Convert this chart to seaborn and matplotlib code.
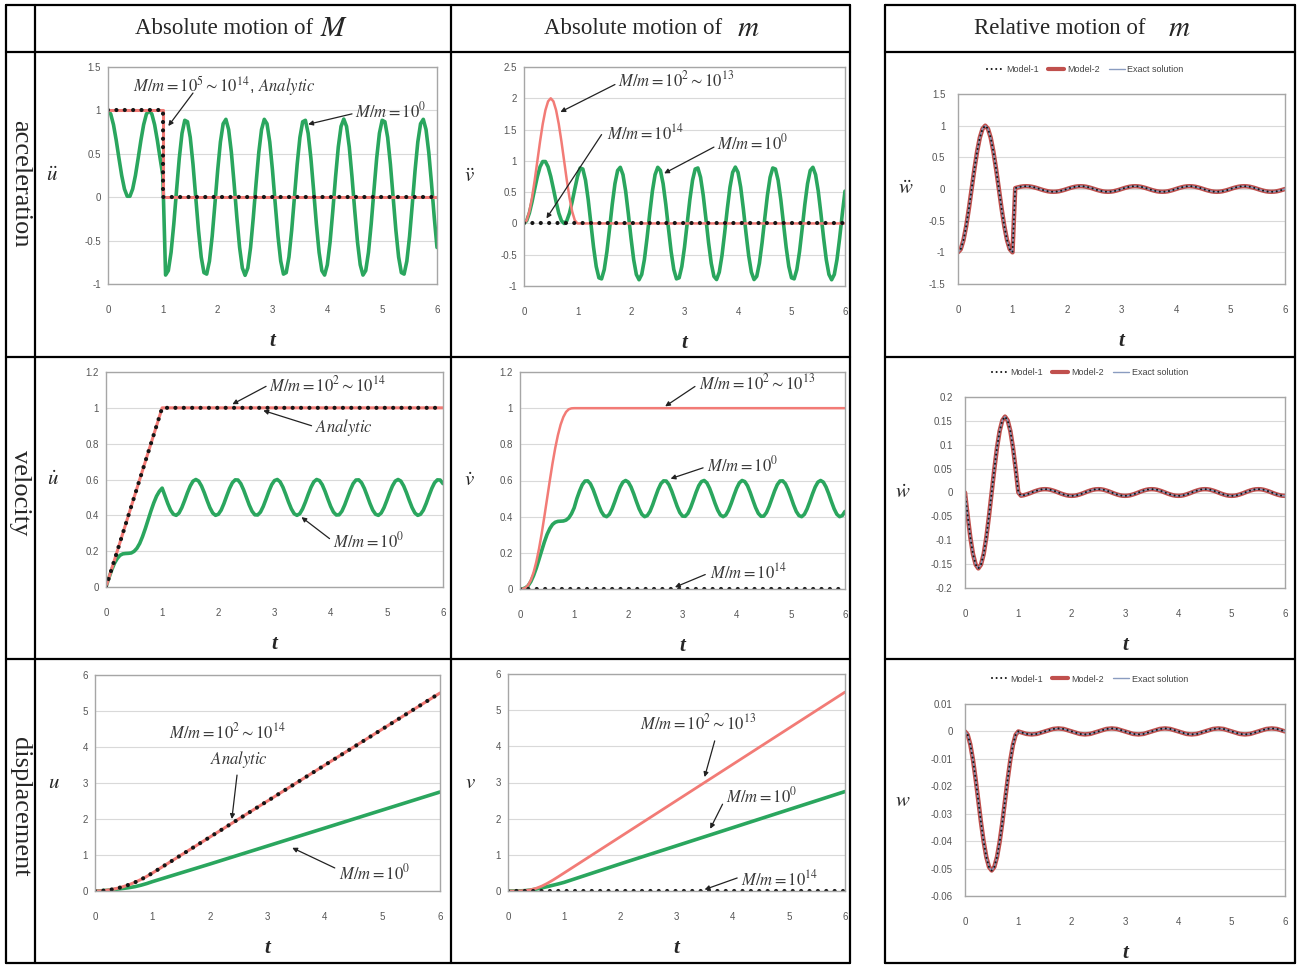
import matplotlib.pyplot as plt
import seaborn as sns
from matplotlib.lines import Line2D
from matplotlib.ticker import FuncFormatter

# ---------------- values ----------------
# common time axis (step 0.05)
T = [0.0, 0.05, 0.1, 0.15, 0.2, 0.25, 0.3, 0.35, 0.4, 0.45,
     0.5, 0.55, 0.6, 0.65, 0.7, 0.75, 0.8, 0.85, 0.9, 0.95,
     1.0, 1.05, 1.1, 1.15, 1.2, 1.25, 1.3, 1.35, 1.4, 1.45,
     1.5, 1.55, 1.6, 1.65, 1.7, 1.75, 1.8, 1.85, 1.9, 1.95,
     2.0, 2.05, 2.1, 2.15, 2.2, 2.25, 2.3, 2.35, 2.4, 2.45,
     2.5, 2.55, 2.6, 2.65, 2.7, 2.75, 2.8, 2.85, 2.9, 2.95,
     3.0, 3.05, 3.1, 3.15, 3.2, 3.25, 3.3, 3.35, 3.4, 3.45,
     3.5, 3.55, 3.6, 3.65, 3.7, 3.75, 3.8, 3.85, 3.9, 3.95,
     4.0, 4.05, 4.1, 4.15, 4.2, 4.25, 4.3, 4.35, 4.4, 4.45,
     4.5, 4.55, 4.6, 4.65, 4.7, 4.75, 4.8, 4.85, 4.9, 4.95,
     5.0, 5.05, 5.1, 5.15, 5.2, 5.25, 5.3, 5.35, 5.4, 5.45,
     5.5, 5.55, 5.6, 5.65, 5.7, 5.75, 5.8, 5.85, 5.9, 5.95,
     6.0]

# --- absolute motion of M ---
ACC_M_1 = [1.0, 0.957, 0.835, 0.655, 0.448, 0.25, 0.095, 0.011, 0.011, 0.095,
           0.25, 0.448, 0.655, 0.835, 0.957, 1.0, 0.957, 0.835, 0.655, 0.448,
           0.25, -0.897, -0.846, -0.636, -0.308, 0.078, 0.45, 0.737, 0.886, 0.869,
           0.689, 0.380, 0.0, -0.380, -0.689, -0.869, -0.886, -0.737, -0.45, -0.078,
           0.308, 0.636, 0.846, 0.897, 0.779, 0.516, 0.156, -0.233, -0.579, -0.816,
           -0.9, -0.816, -0.579, -0.233, 0.156, 0.516, 0.779, 0.897, 0.846, 0.636,
           0.308, -0.078, -0.45, -0.737, -0.886, -0.869, -0.689, -0.380, 0.0, 0.380,
           0.689, 0.869, 0.886, 0.737, 0.45, 0.078, -0.308, -0.636, -0.846, -0.897,
           -0.779, -0.516, -0.156, 0.233, 0.579, 0.816, 0.9, 0.816, 0.579, 0.233,
           -0.156, -0.516, -0.779, -0.897, -0.846, -0.636, -0.308, 0.078, 0.45, 0.737,
           0.886, 0.869, 0.689, 0.380, 0.0, -0.380, -0.689, -0.869, -0.886, -0.737,
           -0.45, -0.078, 0.308, 0.636, 0.846, 0.897, 0.779, 0.516, 0.156, -0.233,
           -0.579]
T_STEP = [0, 1, 1, 6]
ACC_M_HEAVY = [1, 1, 0, 0]
ACC_M_ANALYTIC = [1, 1, 0, 0]

VEL_M_1 = [0.0, 0.049, 0.094, 0.132, 0.159, 0.177, 0.185, 0.187, 0.188, 0.190,
           0.199, 0.216, 0.243, 0.281, 0.326, 0.375, 0.424, 0.469, 0.507, 0.534,
           0.552, 0.509, 0.466, 0.429, 0.406, 0.400, 0.413, 0.443, 0.483, 0.526,
           0.564, 0.591, 0.6, 0.591, 0.564, 0.526, 0.483, 0.443, 0.413, 0.400,
           0.406, 0.429, 0.466, 0.509, 0.55, 0.582, 0.598, 0.597, 0.577, 0.542,
           0.5, 0.458, 0.423, 0.403, 0.402, 0.418, 0.45, 0.491, 0.534, 0.571,
           0.594, 0.600, 0.587, 0.557, 0.517, 0.474, 0.436, 0.409, 0.4, 0.409,
           0.436, 0.474, 0.517, 0.557, 0.587, 0.600, 0.594, 0.571, 0.534, 0.491,
           0.45, 0.418, 0.402, 0.403, 0.423, 0.458, 0.5, 0.542, 0.577, 0.597,
           0.598, 0.582, 0.55, 0.509, 0.466, 0.429, 0.406, 0.400, 0.413, 0.443,
           0.483, 0.526, 0.564, 0.591, 0.6, 0.591, 0.564, 0.526, 0.483, 0.443,
           0.413, 0.400, 0.406, 0.429, 0.466, 0.509, 0.55, 0.582, 0.598, 0.597,
           0.577]
T_RAMP = [0, 1, 6]
VEL_M_HEAVY = [0, 1, 1]
VEL_M_ANALYTIC = [0, 1, 1]

T_DISP = [0.0, 0.1, 0.2, 0.3, 0.4, 0.5, 0.6, 0.7, 0.8, 0.9, 1.0, 2.0, 3.0, 4.0, 5.0, 6.0]
DISP_M_1 = [0.0, 0.005, 0.018, 0.035, 0.054, 0.073, 0.095, 0.123, 0.161, 0.207, 0.261,
            0.75, 1.25, 1.75, 2.25, 2.75]
DISP_M_HEAVY = [0.0, 0.005, 0.02, 0.045, 0.08, 0.125, 0.18, 0.245, 0.32, 0.405, 0.5,
                1.5, 2.5, 3.5, 4.5, 5.5]
DISP_M_ANALYTIC = [0.0, 0.005, 0.02, 0.045, 0.08, 0.125, 0.18, 0.245, 0.32, 0.405, 0.5,
                   1.5, 2.5, 3.5, 4.5, 5.5]

# --- absolute motion of m ---
ACC_m_1 = [0.0, 0.043, 0.165, 0.345, 0.552, 0.75, 0.905, 0.989, 0.989, 0.905,
           0.75, 0.552, 0.345, 0.165, 0.043, 0.0, 0.043, 0.165, 0.345, 0.552,
           0.75, 0.886, 0.869, 0.689, 0.380, 0.0, -0.380, -0.689, -0.869, -0.886,
           -0.737, -0.45, -0.078, 0.308, 0.636, 0.846, 0.897, 0.779, 0.516, 0.156,
           -0.233, -0.579, -0.816, -0.9, -0.816, -0.579, -0.233, 0.156, 0.516, 0.779,
           0.897, 0.846, 0.636, 0.308, -0.078, -0.45, -0.737, -0.886, -0.869, -0.689,
           -0.380, 0.0, 0.380, 0.689, 0.869, 0.886, 0.737, 0.45, 0.078, -0.308,
           -0.636, -0.846, -0.897, -0.779, -0.516, -0.156, 0.233, 0.579, 0.816, 0.9,
           0.816, 0.579, 0.233, -0.156, -0.516, -0.779, -0.897, -0.846, -0.636, -0.308,
           0.078, 0.45, 0.737, 0.886, 0.869, 0.689, 0.380, 0.0, -0.380, -0.689,
           -0.869, -0.886, -0.737, -0.45, -0.078, 0.308, 0.636, 0.846, 0.897, 0.779,
           0.516, 0.156, -0.233, -0.579, -0.816, -0.9, -0.816, -0.579, -0.233, 0.156,
           0.516]
T_PULSE = [0.0, 0.05, 0.1, 0.15, 0.2, 0.25, 0.3, 0.35, 0.4, 0.45,
           0.5, 0.55, 0.6, 0.65, 0.7, 0.75, 0.8, 0.85, 0.9, 0.95, 1.0, 6.0]
ACC_m_HEAVY = [0.0, 0.049, 0.191, 0.412, 0.691, 1.0, 1.309, 1.588, 1.809, 1.951,
               2.0, 1.951, 1.809, 1.588, 1.309, 1.0, 0.691, 0.412, 0.191, 0.049, 0.0, 0.0]
T_FLAT = [0, 6]
ACC_m_RIGID = [0, 0]

VEL_m_1 = [0.0, 0.001, 0.006, 0.018, 0.041, 0.074, 0.115, 0.163, 0.212, 0.26,
           0.302, 0.334, 0.357, 0.369, 0.374, 0.375, 0.376, 0.381, 0.393, 0.416,
           0.449, 0.5, 0.542, 0.577, 0.597, 0.598, 0.582, 0.55, 0.509, 0.466,
           0.429, 0.406, 0.400, 0.413, 0.443, 0.483, 0.526, 0.564, 0.591, 0.6,
           0.591, 0.564, 0.526, 0.483, 0.443, 0.413, 0.400, 0.406, 0.429, 0.466,
           0.509, 0.55, 0.582, 0.598, 0.597, 0.577, 0.542, 0.5, 0.458, 0.423,
           0.403, 0.402, 0.418, 0.45, 0.491, 0.534, 0.571, 0.594, 0.600, 0.587,
           0.557, 0.517, 0.474, 0.436, 0.409, 0.4, 0.409, 0.436, 0.474, 0.517,
           0.557, 0.587, 0.600, 0.594, 0.571, 0.534, 0.491, 0.45, 0.418, 0.402,
           0.403, 0.423, 0.458, 0.5, 0.542, 0.577, 0.597, 0.598, 0.582, 0.55,
           0.509, 0.466, 0.429, 0.406, 0.400, 0.413, 0.443, 0.483, 0.526, 0.564,
           0.591, 0.6, 0.591, 0.564, 0.526, 0.483, 0.443, 0.413, 0.400, 0.406,
           0.429]
VEL_m_HEAVY = [0.0, 0.001, 0.006, 0.021, 0.049, 0.091, 0.149, 0.221, 0.306, 0.401,
               0.5, 0.599, 0.694, 0.779, 0.851, 0.909, 0.951, 0.979, 0.994, 0.999, 1.0, 1.0]
VEL_m_RIGID = [0, 0]

DISP_m_1 = [0.0, 0.0001, 0.0022, 0.0097, 0.026, 0.0518, 0.0851, 0.1219, 0.1594, 0.1976,
            0.2393, 0.75, 1.25, 1.75, 2.25, 2.75]
DISP_m_HEAVY = [0.0, 0.0002, 0.0025, 0.0118, 0.0342, 0.0743, 0.134, 0.212, 0.3025, 0.4,
                0.5, 1.5, 2.5, 3.5, 4.5, 5.5]
DISP_m_RIGID = [0, 0]

# --- relative motion of m (Model-1, Model-2 and exact solution coincide) ---
REL_ACC = [-1.0, -0.951, -0.809, -0.588, -0.309, 0.0, 0.309, 0.588, 0.809, 0.951,
           1.0, 0.951, 0.809, 0.588, 0.309, 0.0, -0.309, -0.588, -0.809, -0.951,
           -1.0, 0.014, 0.026, 0.036, 0.042, 0.044, 0.042, 0.036, 0.026, 0.014,
           0.0, -0.014, -0.026, -0.036, -0.042, -0.044, -0.042, -0.036, -0.026, -0.014,
           0.0, 0.014, 0.026, 0.036, 0.042, 0.044, 0.042, 0.036, 0.026, 0.014,
           0.0, -0.014, -0.026, -0.036, -0.042, -0.044, -0.042, -0.036, -0.026, -0.014,
           0.0, 0.014, 0.026, 0.036, 0.042, 0.044, 0.042, 0.036, 0.026, 0.014,
           0.0, -0.014, -0.026, -0.036, -0.042, -0.044, -0.042, -0.036, -0.026, -0.014,
           0.0, 0.014, 0.026, 0.036, 0.042, 0.044, 0.042, 0.036, 0.026, 0.014,
           0.0, -0.014, -0.026, -0.036, -0.042, -0.044, -0.042, -0.036, -0.026, -0.014,
           0.0, 0.014, 0.026, 0.036, 0.042, 0.044, 0.042, 0.036, 0.026, 0.014,
           0.0, -0.014, -0.026, -0.036, -0.042, -0.044, -0.042, -0.036, -0.026, -0.014,
           0.0]
REL_VEL = [0.0, -0.049, -0.094, -0.129, -0.151, -0.159, -0.151, -0.129, -0.094, -0.049,
           0.0, 0.049, 0.094, 0.129, 0.151, 0.159, 0.151, 0.129, 0.094, 0.049,
           0.0, -0.0067, -0.0057, -0.0041, -0.0022, 0.0, 0.0022, 0.0041, 0.0057, 0.0067,
           0.007, 0.0067, 0.0057, 0.0041, 0.0022, 0.0, -0.0022, -0.0041, -0.0057, -0.0067,
           -0.007, -0.0067, -0.0057, -0.0041, -0.0022, 0.0, 0.0022, 0.0041, 0.0057, 0.0067,
           0.007, 0.0067, 0.0057, 0.0041, 0.0022, 0.0, -0.0022, -0.0041, -0.0057, -0.0067,
           -0.007, -0.0067, -0.0057, -0.0041, -0.0022, 0.0, 0.0022, 0.0041, 0.0057, 0.0067,
           0.007, 0.0067, 0.0057, 0.0041, 0.0022, 0.0, -0.0022, -0.0041, -0.0057, -0.0067,
           -0.007, -0.0067, -0.0057, -0.0041, -0.0022, 0.0, 0.0022, 0.0041, 0.0057, 0.0067,
           0.007, 0.0067, 0.0057, 0.0041, 0.0022, 0.0, -0.0022, -0.0041, -0.0057, -0.0067,
           -0.007, -0.0067, -0.0057, -0.0041, -0.0022, 0.0, 0.0022, 0.0041, 0.0057, 0.0067,
           0.007, 0.0067, 0.0057, 0.0041, 0.0022, 0.0, -0.0022, -0.0041, -0.0057, -0.0067,
           -0.007]
REL_DISP = [0.0, -0.0012, -0.0048, -0.0104, -0.0175, -0.0253, -0.0332, -0.0402, -0.0458, -0.0494,
            -0.0507, -0.0494, -0.0458, -0.0402, -0.0332, -0.0253, -0.0175, -0.0104, -0.0048, -0.0012,
            0.0, -0.0003, -0.0006, -0.0009, -0.001, -0.0011, -0.001, -0.0009, -0.0006, -0.0003,
            0.0, 0.0003, 0.0006, 0.0009, 0.001, 0.0011, 0.001, 0.0009, 0.0006, 0.0003,
            0.0, -0.0003, -0.0006, -0.0009, -0.001, -0.0011, -0.001, -0.0009, -0.0006, -0.0003,
            0.0, 0.0003, 0.0006, 0.0009, 0.001, 0.0011, 0.001, 0.0009, 0.0006, 0.0003,
            0.0, -0.0003, -0.0006, -0.0009, -0.001, -0.0011, -0.001, -0.0009, -0.0006, -0.0003,
            0.0, 0.0003, 0.0006, 0.0009, 0.001, 0.0011, 0.001, 0.0009, 0.0006, 0.0003,
            0.0, -0.0003, -0.0006, -0.0009, -0.001, -0.0011, -0.001, -0.0009, -0.0006, -0.0003,
            0.0, 0.0003, 0.0006, 0.0009, 0.001, 0.0011, 0.001, 0.0009, 0.0006, 0.0003,
            0.0, -0.0003, -0.0006, -0.0009, -0.001, -0.0011, -0.001, -0.0009, -0.0006, -0.0003,
            0.0, 0.0003, 0.0006, 0.0009, 0.001, 0.0011, 0.001, 0.0009, 0.0006, 0.0003,
            0.0]

# ticks
XTICKS = [0, 1, 2, 3, 4, 5, 6]
YT_ACC_M = [-1, -0.5, 0, 0.5, 1, 1.5]
YT_ACC_m = [-1, -0.5, 0, 0.5, 1, 1.5, 2, 2.5]
YT_REL_ACC = [-1.5, -1, -0.5, 0, 0.5, 1, 1.5]
YT_VEL = [0, 0.2, 0.4, 0.6, 0.8, 1, 1.2]
YT_REL_VEL = [-0.2, -0.15, -0.1, -0.05, 0, 0.05, 0.1, 0.15, 0.2]
YT_DISP = [0, 1, 2, 3, 4, 5, 6]
YT_REL_DISP = [-0.06, -0.05, -0.04, -0.03, -0.02, -0.01, 0, 0.01]

# ---------------- figure ----------------
sns.set_theme(style='white')
plt.rcParams['font.family'] = ['Liberation Sans', 'DejaVu Sans']
plt.rcParams['mathtext.fontset'] = 'stix'

W, H = 1297, 965
fig = plt.figure(figsize=(W / 100, H / 100), dpi=100)

GREEN = dict(color='#2aa65e', linewidth=2.6, solid_joinstyle='round', solid_capstyle='round')
SALMON = '#f27b76'
RED2 = '#c0504d'
EXACT = '#8a9cc0'
BIG_DOTS = dict(color='#151515', linewidth=3.0, linestyle=(0, (0.01, 2.0)), dash_capstyle='round')
SMALL_DOTS = dict(color='#151515', linewidth=1.5, linestyle=(0, (0.01, 2.2)), dash_capstyle='round')
ARROW = dict(arrowstyle='-|>', color='#222222', lw=0.9, mutation_scale=7, shrinkA=0, shrinkB=0)
fmt = FuncFormatter(lambda v, p: f'{v:g}')


def add_ax(box):
    x0, y0, x1, y1 = box
    return fig.add_axes([x0 / W, 1 - y1 / H, (x1 - x0) / W, (y1 - y0) / H])


def line(ax, x, y, **kw):
    sns.lineplot(x=x[:len(y)], y=y, ax=ax, estimator=None, sort=False, legend=False, **kw)


def finish(ax, box, yticks, ylab, ylab_px, ypad=5):
    x0, y0, x1, y1 = box
    ax.set_xlim(0, 6)
    ax.set_ylim(yticks[0], yticks[-1])
    ax.set_xticks(XTICKS)
    ax.set_yticks(yticks)
    ax.xaxis.set_major_formatter(fmt)
    ax.yaxis.set_major_formatter(fmt)
    ax.set_axisbelow(True)
    ax.yaxis.grid(True, color='#d9d9d9', lw=0.8)
    ax.xaxis.grid(False)
    for s in ax.spines.values():
        s.set_color('#a6a6a6')
        s.set_linewidth(1.0)
    ax.tick_params(length=0, labelsize=7, labelcolor='#555555')
    ax.tick_params(axis='x', pad=15)
    ax.tick_params(axis='y', pad=ypad)
    ax.set_ylabel(ylab, rotation=0, fontsize=15, ha='center', va='center')
    ax.yaxis.set_label_coords((ylab_px - x0) / (x1 - x0), 0.5)
    ax.set_xlabel('t', fontsize=15, fontfamily='Liberation Serif', fontstyle='italic',
                  fontweight='bold', va='center')
    ax.xaxis.set_label_coords(0.5, -57 / (y1 - y0))


def notes(ax, items):
    for text, pos, ha, start, end in items:
        ax.text(pos[0], pos[1], text, ha=ha, va='center', fontsize=12, color='#3a3a3a')
        if start is not None:
            ax.annotate('', xy=end, xytext=start, arrowprops=ARROW)


def rel(ax, y):
    line(ax, T, y, color=RED2, linewidth=3.2)
    line(ax, T, y, color=EXACT, linewidth=1.0)
    line(ax, T, y, **SMALL_DOTS)
    handles = [Line2D([], [], **SMALL_DOTS), Line2D([], [], color=RED2, lw=3),
               Line2D([], [], color=EXACT, lw=1)]
    ax.legend(handles, ['Model-1', 'Model-2', 'Exact solution'], loc='center',
              bbox_to_anchor=(0.39, 1.13), ncol=3, frameon=False, fontsize=6.5,
              handlelength=1.8, handletextpad=0.3, columnspacing=1.0,
              labelcolor='#444444')


# --- row 1: acceleration ---
box = (108, 67, 437, 284)
ax = add_ax(box)
line(ax, T, ACC_M_1, **GREEN)
line(ax, T_STEP, ACC_M_HEAVY, color=SALMON, linewidth=2.2)
line(ax, T_STEP, ACC_M_ANALYTIC, **BIG_DOTS)
finish(ax, box, YT_ACC_M, r'$\ddot{u}$', 52)
notes(ax, [(r'$M/m=10^{5}\sim10^{14}$, $\mathit{Analytic}$', (0.45, 1.28), 'left', (1.55, 1.2), (1.1, 0.82)),
           (r'$M/m=10^{0}$', (4.5, 1.0), 'left', (4.45, 0.96), (3.65, 0.84))])

box = (524, 67, 845, 286)
ax = add_ax(box)
line(ax, T, ACC_m_1, **GREEN)
line(ax, T_PULSE, ACC_m_HEAVY, color=SALMON, linewidth=1.8)
line(ax, T_FLAT, ACC_m_RIGID, **BIG_DOTS)
finish(ax, box, YT_ACC_m, r'$\ddot{v}$', 469)
notes(ax, [(r'$M/m=10^{2}\sim10^{13}$', (1.75, 2.3), 'left', (1.7, 2.22), (0.68, 1.78)),
           (r'$M/m=10^{14}$', (1.55, 1.46), 'left', (1.45, 1.42), (0.42, 0.08)),
           (r'$M/m=10^{0}$', (3.6, 1.3), 'left', (3.55, 1.22), (2.62, 0.8))])

box = (958, 94, 1285, 284)
ax = add_ax(box)
rel(ax, REL_ACC)
finish(ax, box, YT_REL_ACC, r'$\ddot{w}$', 906, ypad=9)

# --- row 2: velocity ---
box = (106, 372, 443, 587)
ax = add_ax(box)
line(ax, T, VEL_M_1, **GREEN)
line(ax, T_RAMP, VEL_M_HEAVY, color=SALMON, linewidth=2.2)
line(ax, T_RAMP, VEL_M_ANALYTIC, **BIG_DOTS)
finish(ax, box, YT_VEL, r'$\dot{u}$', 53)
notes(ax, [(r'$M/m=10^{2}\sim10^{14}$', (2.9, 1.13), 'left', (2.85, 1.12), (2.25, 1.02)),
           (r'$\mathit{Analytic}$', (3.72, 0.89), 'left', (3.66, 0.9), (2.8, 0.985)),
           (r'$M/m=10^{0}$', (4.05, 0.26), 'left', (3.98, 0.27), (3.48, 0.39))])

box = (520, 372, 845, 589)
ax = add_ax(box)
line(ax, T, VEL_m_1, **GREEN)
line(ax, T_PULSE, VEL_m_HEAVY, color=SALMON, linewidth=1.8)
line(ax, T_FLAT, VEL_m_RIGID, **BIG_DOTS)
finish(ax, box, YT_VEL, r'$\dot{v}$', 469)
notes(ax, [(r'$M/m=10^{2}\sim10^{13}$', (3.3, 1.14), 'left', (3.23, 1.12), (2.68, 1.01)),
           (r'$M/m=10^{0}$', (3.45, 0.69), 'left', (3.38, 0.67), (2.78, 0.61)),
           (r'$M/m=10^{14}$', (3.5, 0.1), 'left', (3.42, 0.08), (2.86, 0.01))])

box = (965, 397, 1285, 588)
ax = add_ax(box)
rel(ax, REL_VEL)
finish(ax, box, YT_REL_VEL, r'$\dot{w}$', 903, ypad=9)

# --- row 3: displacement ---
box = (95, 675, 440, 891)
ax = add_ax(box)
line(ax, T_DISP, DISP_M_1, **GREEN)
line(ax, T_DISP, DISP_M_HEAVY, color=SALMON, linewidth=2.2)
line(ax, T_DISP, DISP_M_ANALYTIC, **BIG_DOTS)
finish(ax, box, YT_DISP, r'$u$', 54)
notes(ax, [(r'$M/m=10^{2}\sim10^{14}$', (2.3, 4.42), 'center', None, None),
           (r'$\mathit{Analytic}$', (2.5, 3.64), 'center', (2.47, 3.22), (2.38, 2.0)),
           (r'$M/m=10^{0}$', (4.25, 0.53), 'left', (4.17, 0.64), (3.43, 1.2))])

box = (508, 674, 845, 891)
ax = add_ax(box)
line(ax, T_DISP, DISP_m_1, **GREEN)
line(ax, T_DISP, DISP_m_HEAVY, color=SALMON, linewidth=2.0)
line(ax, T_FLAT, DISP_m_RIGID, **BIG_DOTS)
finish(ax, box, YT_DISP, r'$v$', 470)
notes(ax, [(r'$M/m=10^{2}\sim10^{13}$', (2.35, 4.67), 'left', (3.68, 4.15), (3.5, 3.15)),
           (r'$M/m=10^{0}$', (3.88, 2.65), 'left', (3.82, 2.4), (3.6, 1.72)),
           (r'$M/m=10^{14}$', (4.15, 0.36), 'left', (4.08, 0.36), (3.5, 0.04))])

box = (965, 704, 1285, 896)
ax = add_ax(box)
rel(ax, REL_DISP)
finish(ax, box, YT_REL_DISP, r'$w$', 903, ypad=9)

# ---------------- table frame and headings ----------------
def seg(xs, ys):
    fig.add_artist(Line2D([x / W for x in xs], [1 - y / H for y in ys], color='black',
                          lw=1.6, transform=fig.transFigure))


for y in [5, 52, 357, 659, 963]:
    seg([6, 850], [y, y])
    seg([885, 1295], [y, y])
for x in [6, 35, 451, 850, 885, 1295]:
    seg([x, x], [5, 963])

head_kw = dict(fontsize=16.5, family='Liberation Serif', va='center')
fig.text(313 / W, 1 - 28 / H, 'Absolute motion of', ha='right', **head_kw)
fig.text(320 / W, 1 - 28 / H, r'$M$', ha='left', fontsize=21, va='center')
fig.text(722 / W, 1 - 28 / H, 'Absolute motion of', ha='right', **head_kw)
fig.text(737 / W, 1 - 28 / H, r'$m$', ha='left', fontsize=21, va='center')
fig.text(1146 / W, 1 - 28 / H, 'Relative motion of', ha='right', **head_kw)
fig.text(1168 / W, 1 - 28 / H, r'$m$', ha='left', fontsize=21, va='center')

row_kw = dict(fontsize=19, family='Liberation Serif', rotation=-90, ha='center', va='center')
fig.text(20 / W, 1 - 184 / H, 'acceleration', **row_kw)
fig.text(20 / W, 1 - 493 / H, 'velocity', **row_kw)
fig.text(20 / W, 1 - 807 / H, 'displacement', **row_kw)

fig.savefig('out.png', dpi=100)
